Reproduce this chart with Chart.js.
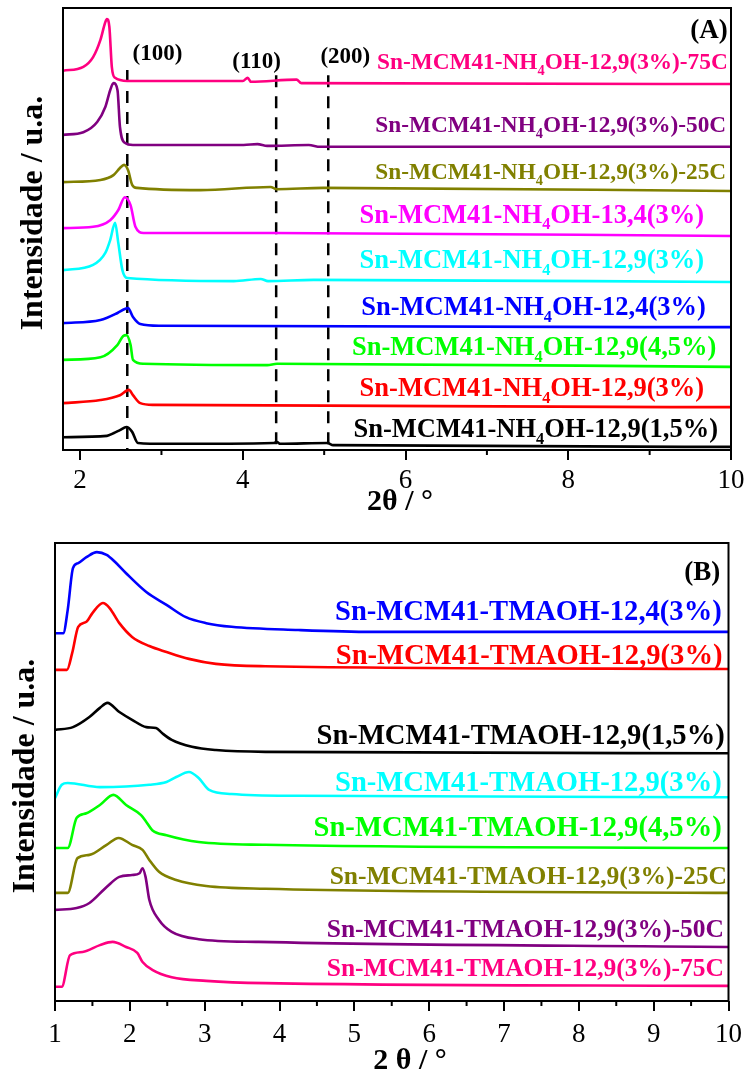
<!DOCTYPE html>
<html>
<head>
<meta charset="utf-8">
<script src="https://cdn.jsdelivr.net/npm/chart.js@4"></script>
<style>
    body { margin: 0; background: #fff; }
    canvas { display: block; }
</style>
</head>
<body>
<canvas id="chartA" width="750" height="520"></canvas>
<canvas id="chartB" width="750" height="552"></canvas>
<script>
// ---- panel (A) NH4OH, 2theta / intensity (a.u., stacked) ----
var namesA = ['Sn-MCM41-NH₄OH-12,9(3%)-75C', 'Sn-MCM41-NH₄OH-12,9(3%)-50C', 'Sn-MCM41-NH₄OH-12,9(3%)-25C',
    'Sn-MCM41-NH₄OH-13,4(3%)', 'Sn-MCM41-NH₄OH-12,9(3%)', 'Sn-MCM41-NH₄OH-12,4(3%)',
    'Sn-MCM41-NH₄OH-12,9(4,5%)', 'Sn-MCM41-NH₄OH-12,9(3%)', 'Sn-MCM41-NH₄OH-12,9(1,5%)'];
var a75x = [1.79, 2.04, 2.16, 2.25, 2.31, 2.33, 2.36, 2.39, 2.43, 2.58, 4.0, 4.06, 4.1, 4.66, 4.72, 10];
var a75y = [85.8, 86.7, 88.9, 92.8, 96.8, 97.5, 95.7, 86.7, 84.2, 83.5, 83.5, 84.2, 83.3, 83.8, 83.0, 82.8];
var a50x = [1.79, 2.04, 2.21, 2.31, 2.37, 2.41, 2.46, 2.49, 2.55, 2.65, 4.01, 4.18, 4.30, 4.81, 4.95, 10];
var a50y = [71.3, 71.9, 74.2, 77.6, 81.4, 83.0, 81.4, 73.1, 69.5, 69.0, 69.0, 69.2, 68.8, 69.0, 68.6, 68.6];
var a25x = [1.79, 2.25, 2.41, 2.49, 2.54, 2.59, 2.64, 2.70, 3.48, 4.34, 4.42, 4.99, 10];
var a25y = [60.6, 61.1, 62.2, 63.8, 64.5, 63.3, 60.0, 59.3, 58.8, 59.5, 59.0, 59.3, 58.6];
var a134x = [1.79, 2.16, 2.37, 2.47, 2.55, 2.62, 2.68, 2.78, 4.38, 10];
var a134y = [50.2, 50.5, 52.0, 54.3, 57.2, 55.4, 50.5, 49.1, 49.1, 48.4];
var a129x = [1.79, 2.16, 2.31, 2.37, 2.43, 2.47, 2.52, 2.58, 3.89, 4.22, 4.31, 4.87, 10];
var a129y = [40.7, 41.9, 44.6, 47.5, 51.4, 46.8, 40.7, 38.9, 38.2, 38.7, 38.2, 38.5, 38.0];
var a124x = [1.79, 2.25, 2.46, 2.55, 2.59, 2.65, 2.74, 2.98, 10];
var a124y = [28.7, 29.4, 31.0, 31.9, 32.1, 30.1, 28.5, 28.1, 27.8];
var a45x = [1.79, 2.25, 2.46, 2.53, 2.57, 2.62, 2.65, 2.78, 4.30, 4.42, 10];
var a45y = [20.4, 21.0, 23.8, 25.8, 26.0, 23.8, 20.4, 19.5, 19.2, 19.5, 18.8];
var a3x = [1.79, 2.25, 2.49, 2.60, 2.65, 2.74, 2.90, 10];
var a3y = [10.6, 11.3, 12.4, 13.6, 12.4, 10.6, 10.2, 9.7];
var a15x = [1.79, 2.33, 2.41, 2.49, 2.57, 2.64, 2.71, 3.07, 4.38, 4.42, 4.46, 5.04, 5.11, 10];
var a15y = [2.9, 3.2, 3.8, 4.5, 5.2, 4.1, 1.6, 1.4, 1.6, 1.8, 1.4, 1.6, 1.1, 0.7];
var ticksA = [2, 4, 6, 8, 10];
var peaksA = ['(100)', '(110)', '(200)'];
var peakThetaA = [2.58, 4.41, 5.05];

// ---- panel (B) TMAOH ----
var namesB = ['Sn-MCM41-TMAOH-12,4(3%)', 'Sn-MCM41-TMAOH-12,9(3%)', 'Sn-MCM41-TMAOH-12,9(1,5%)',
    'Sn-MCM41-TMAOH-12,9(3%)', 'Sn-MCM41-TMAOH-12,9(4,5%)', 'Sn-MCM41-TMAOH-12,9(3%)-25C',
    'Sn-MCM41-TMAOH-12,9(3%)-50C', 'Sn-MCM41-TMAOH-12,9(3%)-75C'];
var b124x = [1.0, 1.11, 1.17, 1.24, 1.31, 1.42, 1.56, 1.69, 1.80, 1.95, 2.22, 2.49, 2.75, 3.02, 3.36, 4.25, 5.24, 10];
var b124y = [80.3, 80.3, 85.4, 94.5, 95.6, 96.9, 98.0, 97.4, 95.9, 93.4, 89.3, 86.5, 83.8, 82.5, 81.7, 81.0, 80.6, 80.6];
var b129x = [1.0, 1.16, 1.23, 1.31, 1.42, 1.50, 1.64, 1.73, 1.86, 2.03, 2.26, 2.49, 2.79, 3.15, 3.81, 10];
var b129y = [72.3, 72.3, 76.0, 81.7, 82.8, 84.7, 86.9, 85.8, 82.5, 79.5, 77.5, 76.2, 74.7, 73.6, 73.1, 72.5];
var b15x = [1.0, 1.24, 1.46, 1.60, 1.70, 1.86, 2.03, 2.22, 2.35, 2.43, 2.56, 2.83, 3.15, 3.81, 10];
var b15y = [59.2, 59.8, 62.0, 64.0, 65.1, 63.1, 61.4, 59.8, 59.6, 58.5, 57.0, 55.5, 54.8, 54.4, 54.1];
var b129cx = [1.0, 1.09, 1.17, 1.60, 2.26, 2.49, 2.62, 2.79, 2.92, 3.06, 3.36, 4.25, 10];
var b129cy = [44.3, 47.2, 47.6, 46.7, 47.2, 47.8, 48.9, 50.0, 48.7, 46.1, 45.2, 44.8, 44.5];
var b45x = [1.0, 1.17, 1.29, 1.42, 1.60, 1.78, 1.95, 2.15, 2.22, 2.30, 2.49, 2.92, 3.81, 10];
var b45y = [33.4, 33.4, 40.0, 41.0, 42.8, 45.0, 42.8, 40.6, 39.1, 37.3, 36.2, 34.7, 34.1, 33.4];
var b25x = [1.0, 1.17, 1.30, 1.46, 1.69, 1.85, 2.03, 2.17, 2.26, 2.39, 2.62, 3.02, 3.81, 10];
var b25y = [23.6, 23.6, 31.2, 31.9, 34.1, 35.6, 34.1, 33.0, 30.8, 28.2, 26.4, 25.1, 24.5, 23.6];
var b50x = [1.0, 1.29, 1.46, 1.69, 1.86, 2.03, 2.13, 2.17, 2.21, 2.26, 2.39, 2.56, 2.92, 3.72, 10];
var b50y = [19.9, 20.3, 21.4, 24.9, 27.1, 27.5, 27.9, 29.0, 27.1, 22.1, 17.7, 15.1, 13.5, 12.9, 11.8];
var b75x = [1.0, 1.09, 1.20, 1.37, 1.60, 1.77, 1.95, 2.10, 2.17, 2.30, 2.56, 3.02, 3.81, 10];
var b75y = [3.1, 3.1, 10.0, 10.7, 12.2, 12.9, 11.8, 10.5, 8.5, 6.8, 5.2, 4.4, 3.9, 3.3];
var ticksB = [1, 2, 3, 4, 5, 6, 7, 8, 9, 10];

// ---- styles / layout ----
var colorsA = ['#ff0080', '#800080', '#808000', '#ff00ff', '#00ffff', '#0000ff', '#00ff00', '#ff0000', '#000000'];
var colorsB = ['#0000ff', '#ff0000', '#000000', '#00ffff', '#00ff00', '#808000', '#800080', '#ff0080'];
var labelPosA = [[9.96, 86.2], [9.94, 71.9], [9.94, 61.3], [9.67, 51.4], [9.67, 41.2], [9.69, 30.5], [9.82, 21.5], [9.67, 12.2], [9.84, 2.9]];
var labelSizeA = [23.3, 23.3, 23.3, 26.5, 26.5, 26.5, 26.5, 26.5, 26.5];
var labelPosB = [[9.91, 83.2], [9.92, 73.6], [9.95, 56.1], [9.91, 45.9], [9.91, 36.0], [9.98, 25.5], [9.94, 14.0], [9.94, 5.5]];
var labelSizeB = [28.6, 28.6, 28.6, 28.6, 28.6, 25.5, 25.5, 25.5];
var SERIF = '"Liberation Serif", "Times New Roman", serif';

function toPoints(xs, ys) {
    return xs.map(function (x, i) { return {x: x, y: ys[i]}; });
}

function richText(ctx, text, xRight, yBase, size, color) {
    var parts = text.split('₄');
    var big = 'bold ' + size + 'px ' + SERIF;
    var small = 'bold ' + (size * 0.62).toFixed(1) + 'px ' + SERIF;
    ctx.font = big;
    var w0 = ctx.measureText(parts[0]).width;
    var w2 = parts.length > 1 ? ctx.measureText(parts[1]).width : 0;
    ctx.font = small;
    var w1 = parts.length > 1 ? ctx.measureText('4').width : 0;
    var x = xRight - w0 - w1 - w2;
    ctx.fillStyle = color;
    ctx.textAlign = 'left';
    ctx.textBaseline = 'alphabetic';
    ctx.font = big;
    ctx.fillText(parts[0], x, yBase);
    if (parts.length > 1) {
        ctx.font = small;
        ctx.fillText('4', x + w0, yBase + size * 0.25);
        ctx.font = big;
        ctx.fillText(parts[1], x + w0 + w1, yBase);
    }
}

var decor = {
    id: 'decor',
    beforeDatasetsDraw: function (chart, args, o) {
        var ctx = chart.ctx, a = chart.chartArea, sx = chart.scales.x, sy = chart.scales.y;
        ctx.save();
        ctx.strokeStyle = '#000';
        ctx.lineWidth = 2.5;
        ctx.setLineDash([12, 9]);
        (o.dashes || []).forEach(function (d) {
            var px = sx.getPixelForValue(d[0]);
            ctx.beginPath();
            ctx.moveTo(px, sy.getPixelForValue(d[1]));
            ctx.lineTo(px, a.bottom);
            ctx.stroke();
        });
        ctx.restore();
    },
    afterDraw: function (chart, args, o) {
        var ctx = chart.ctx, a = chart.chartArea, sx = chart.scales.x, sy = chart.scales.y;
        ctx.save();
        ctx.strokeStyle = '#000';
        ctx.lineWidth = 2;
        ctx.strokeRect(a.left, a.top, a.right - a.left, a.bottom - a.top);
        o.minor.forEach(function (v) {
            var px = sx.getPixelForValue(v);
            ctx.beginPath();
            ctx.moveTo(px, a.bottom);
            ctx.lineTo(px, a.bottom + 5);
            ctx.stroke();
        });
        o.names.forEach(function (n, i) {
            richText(ctx, n, sx.getPixelForValue(o.pos[i][0]), sy.getPixelForValue(o.pos[i][1]), o.sizes[i], o.colors[i]);
        });
        ctx.fillStyle = '#000';
        (o.peaks || []).forEach(function (p) {
            ctx.font = 'bold 23px ' + SERIF;
            ctx.textAlign = 'center';
            ctx.fillText(p[0], sx.getPixelForValue(p[1]), sy.getPixelForValue(p[2]));
        });
        ctx.font = 'bold 27px ' + SERIF;
        ctx.textAlign = 'right';
        ctx.fillText(o.letter[0], sx.getPixelForValue(o.letter[1]), sy.getPixelForValue(o.letter[2]));
        ctx.font = 'bold 30px ' + SERIF;
        ctx.textAlign = 'center';
        ctx.fillText(o.xTitle[0], o.xTitle[1], o.xTitle[2]);
        ctx.translate(o.yTitle[0], o.yTitle[1]);
        ctx.rotate(-Math.PI / 2);
        ctx.font = 'bold 32px ' + SERIF;
        ctx.fillText('Intensidade / u.a.', 0, 0);
        ctx.restore();
    }
};

function makeChart(id, cfg) {
    var ctx = document.getElementById(id).getContext('2d');
    return new Chart(ctx, {
        type: 'line',
        data: {
            datasets: cfg.series.map(function (s, i) {
                return {
                    label: cfg.names[i],
                    data: toPoints(s[0], s[1]),
                    borderColor: cfg.colors[i],
                    borderWidth: 2.6,
                    pointRadius: 0,
                    cubicInterpolationMode: 'monotone'
                };
            })
        },
        options: {
            responsive: false,
            animation: false,
            events: [],
            layout: {padding: cfg.padding},
            plugins: {
                legend: {display: false},
                tooltip: {enabled: false},
                decor: cfg.decor
            },
            scales: {
                x: {
                    type: 'linear',
                    min: cfg.xmin,
                    max: 10,
                    afterBuildTicks: function (scale) {
                        scale.ticks = cfg.ticks.map(function (v) { return {value: v}; });
                    },
                    afterFit: function (scale) { scale.height = cfg.axisHeight; },
                    grid: {drawOnChartArea: false, color: '#000', lineWidth: 2, tickLength: 10},
                    border: {display: false},
                    ticks: {
                        color: '#000',
                        padding: cfg.tickPad,
                        maxRotation: 0,
                        font: {family: SERIF, size: 27}
                    }
                },
                y: {display: false, min: 0, max: 100}
            }
        },
        plugins: [decor]
    });
}

makeChart('chartA', {
    names: namesA,
    colors: colorsA,
    series: [[a75x, a75y], [a50x, a50y], [a25x, a25y], [a134x, a134y], [a129x, a129y], [a124x, a124y], [a45x, a45y], [a3x, a3y], [a15x, a15y]],
    xmin: 1.79,
    ticks: ticksA,
    padding: {left: 63, right: 19, top: 8, bottom: 0},
    axisHeight: 70,
    tickPad: 5,
    decor: {
        names: namesA, colors: colorsA, pos: labelPosA, sizes: labelSizeA,
        minor: [3, 5, 7, 9],
        dashes: [[peakThetaA[0], 86.0], [peakThetaA[1], 84.8], [peakThetaA[2], 84.8]],
        peaks: [[peaksA[0], 2.95, 88.2], [peaksA[1], 4.17, 86.4], [peaksA[2], 5.26, 87.6]],
        letter: ['(A)', 9.96, 93.2],
        xTitle: ['2θ / °', 400, 510],
        yTitle: [42, 213]
    }
});

makeChart('chartB', {
    names: namesB,
    colors: colorsB,
    series: [[b124x, b124y], [b129x, b129y], [b15x, b15y], [b129cx, b129cy], [b45x, b45y], [b25x, b25y], [b50x, b50y], [b75x, b75y]],
    xmin: 1,
    ticks: ticksB,
    padding: {left: 55, right: 16, top: 23, bottom: 0},
    axisHeight: 71,
    tickPad: 8,
    decor: {
        names: namesB, colors: colorsB, pos: labelPosB, sizes: labelSizeB,
        minor: [1.5, 2.5, 3.5, 4.5, 5.5, 6.5, 7.5, 8.5, 9.5],
        letter: ['(B)', 9.89, 91.9],
        xTitle: ['2 θ / °', 410, 549],
        yTitle: [34, 256]
    }
});
</script>
</body>
</html>
